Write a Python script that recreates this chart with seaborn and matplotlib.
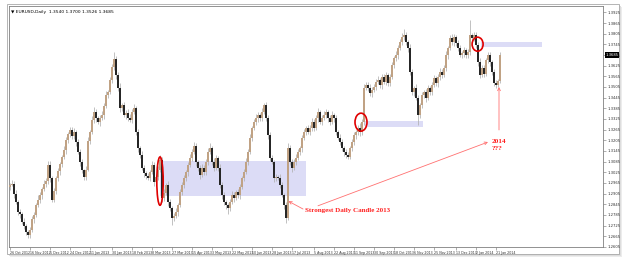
import numpy as np
import pandas as pd
import matplotlib
matplotlib.use("Agg")
import matplotlib.pyplot as plt
import matplotlib.transforms as mtransforms
import seaborn as sns
from matplotlib.patches import Rectangle, Ellipse


# Daily closes, EURUSD, in pips above 1.0000.
closes_pips = [
    2955, 2960, 2900, 2860, 2800, 2790, 2745, 2720, 2690, 2670,
    2700, 2760, 2785, 2840, 2870, 2897, 2930, 2960, 2975, 3065,
    2990, 2870, 2920, 2990, 3030, 3070, 3110, 3150, 3205, 3240,
    3262, 3230, 3250, 3195, 3140, 3080, 3035, 3000, 3040, 3200,
    3250, 3320, 3365, 3330, 3308, 3330, 3345, 3400, 3460, 3475,
    3545, 3617, 3660, 3572, 3500, 3386, 3405, 3347, 3360, 3330,
    3320, 3365, 3386, 3251, 3161, 3122, 3049, 3020, 3005, 2992,
    3026, 3066, 2970, 3000, 3040, 3094, 2880, 2910, 2953, 2857,
    2823, 2767, 2780, 2800, 2840, 2913, 2953, 2992, 3026, 3066,
    3105, 3139, 3170, 3080, 3049, 3009, 3049, 3026, 3083, 3139,
    3161, 3083, 3049, 3105, 3049, 2953, 2897, 2857, 2840, 2823,
    2857, 2897, 2880, 2913, 2897, 2942, 2992, 3026, 3083, 3139,
    3218, 3274, 3308, 3330, 3347, 3330, 3364, 3403, 3330, 3234,
    3105, 3083, 2992, 2998, 2992, 2953, 2897, 2840, 2767, 3161,
    3083, 3049, 3083, 3105, 3139, 3161, 3218, 3251, 3274, 3251,
    3274, 3308, 3274, 3330, 3364, 3308, 3330, 3347, 3364, 3330,
    3308, 3347, 3330, 3251, 3218, 3195, 3161, 3139, 3122, 3111,
    3161, 3195, 3234, 3251, 3274, 3250, 3308, 3499, 3516, 3499,
    3471, 3490, 3505, 3533, 3544, 3516, 3561, 3533, 3572, 3527,
    3561, 3628, 3668, 3685, 3724, 3758, 3786, 3797, 3758, 3724,
    3589, 3476, 3499, 3443, 3347, 3403, 3460, 3476, 3443, 3499,
    3476, 3516, 3555, 3527, 3561, 3589, 3572, 3612, 3685, 3724,
    3780, 3758, 3786, 3752, 3724, 3685, 3696, 3713, 3685, 3702,
    3797, 3780, 3797, 3741, 3645, 3572, 3612, 3580, 3657, 3685,
    3645, 3589, 3527, 3516, 3540, 3685,
]
first_open_pips = 2940

# Wick lengths (pips) above / below the candle body.
upper_wick = [
    12, 20, 15, 25, 10, 18, 12, 22, 15, 10,
    14, 20, 16, 12, 24, 18, 10, 20, 15, 22,
    25, 14, 18, 12, 20, 15, 10, 22, 18, 14,
    20, 16, 24, 12, 18, 15, 22, 10, 18, 25,
    15, 20, 28, 14, 12, 18, 22, 16, 20, 12,
    18, 15, 40, 22, 16, 25, 12, 18, 14, 20,
    22, 16, 24, 14, 18, 12, 20, 15, 10, 18,
    14, 22, 18, 12, 20, 26, 15, 18, 12, 20,
    16, 12, 18, 22, 14, 20, 15, 18, 12, 16,
    20, 14, 26, 18, 12, 16, 22, 15, 18, 20,
    28, 14, 20, 16, 12, 22, 15, 18, 10, 14,
    18, 22, 15, 12, 20, 16, 14, 18, 22, 15,
    20, 14, 18, 22, 16, 12, 20, 13, 18, 15,
    20, 16, 12, 18, 14, 22, 15, 10, 16, 30,
    20, 14, 18, 22, 16, 12, 18, 20, 14, 16,
    18, 22, 14, 16, 20, 12, 18, 24, 15, 14,
    16, 20, 12, 18, 14, 22, 15, 12, 18, 16,
    14, 18, 20, 12, 16, 30, 14, 22, 18, 15,
    20, 14, 18, 16, 22, 12, 18, 15, 20, 14,
    16, 18, 12, 20, 15, 18, 22, 35, 16, 14,
    22, 18, 14, 20, 16, 12, 18, 14, 20, 16,
    14, 18, 20, 12, 16, 22, 15, 18, 20, 14,
    18, 22, 16, 14, 20, 18, 12, 16, 14, 18,
    85, 14, 20, 18, 16, 22, 14, 18, 12, 16,
    18, 14, 20, 16, 12, 15,
]
lower_wick = [
    15, 10, 20, 12, 18, 22, 14, 16, 20, 15,
    18, 12, 20, 14, 10, 16, 22, 12, 18, 14,
    20, 15, 12, 18, 14, 20, 16, 12, 22, 18,
    14, 20, 16, 22, 12, 18, 14, 20, 16, 10,
    18, 12, 16, 22, 14, 20, 12, 18, 14, 16,
    12, 18, 14, 20, 16, 22, 18, 12, 20, 16,
    14, 20, 12, 18, 22, 16, 14, 20, 18, 12,
    16, 12, 20, 14, 18, 12, 22, 16, 14, 20,
    18, 39, 16, 14, 20, 12, 18, 14, 16, 20,
    12, 18, 14, 22, 16, 20, 12, 18, 14, 16,
    14, 20, 16, 12, 18, 14, 22, 16, 20, 33,
    16, 12, 20, 14, 18, 22, 14, 16, 12, 18,
    14, 18, 12, 16, 20, 14, 18, 12, 16, 22,
    18, 14, 20, 16, 12, 18, 14, 20, 28, 10,
    16, 20, 14, 18, 12, 16, 20, 14, 18, 12,
    14, 18, 16, 12, 20, 14, 18, 12, 16, 20,
    18, 14, 20, 16, 12, 18, 14, 20, 16, 14,
    12, 16, 14, 20, 18, 20, 14, 16, 12, 18,
    16, 20, 12, 18, 14, 16, 20, 12, 18, 14,
    18, 12, 16, 14, 20, 12, 16, 18, 14, 20,
    16, 14, 20, 12, 56, 18, 14, 16, 20, 12,
    14, 18, 12, 16, 20, 14, 18, 12, 16, 20,
    12, 16, 20, 14, 18, 12, 16, 20, 14, 18,
    16, 12, 18, 14, 20, 16, 12, 18, 14, 16,
    20, 14, 18, 16, 12, 14,
]

# Time axis labels and the bar each one sits on.
date_labels = [
    "26 Oct 2012", "16 Nov 2012", "5 Dec 2012", "24 Dec 2012", "11 Jan 2013",
    "30 Jan 2013", "18 Feb 2013", "8 Mar 2013", "27 Mar 2013", "15 Apr 2013",
    "3 May 2013", "22 May 2013", "10 Jun 2013", "28 Jun 2013", "17 Jul 2013",
    "5 Aug 2013", "22 Aug 2013", "11 Sep 2013", "30 Sep 2013", "18 Oct 2013",
    "6 Nov 2013", "25 Nov 2013", "13 Dec 2013", "2 Jan 2014", "21 Jan 2014",
]
date_bars = [0, 10, 20, 30, 40, 51, 61, 71, 81, 91, 101, 111, 121, 131, 141,
             152, 162, 172, 182, 192, 202, 212, 223, 233, 243]


# Building the OHLC frame.
df = pd.DataFrame({"close": np.array(closes_pips) / 10000 + 1})
df["open"] = df["close"].shift(1).fillna(1 + first_open_pips / 10000)
df["high"] = df[["open", "close"]].max(axis=1) + np.array(upper_wick) / 10000
df["low"] = df[["open", "close"]].min(axis=1) - np.array(lower_wick) / 10000
df["bar"] = np.arange(len(df))
df["bull"] = df["close"] >= df["open"]


"""Drawing"""
sns.set_theme(style="white")
plt.rcParams["font.family"] = ["DejaVu Sans"]

W, H = 625, 261
fig = plt.figure(figsize=(W / 100, H / 100), dpi=100)
fig.patch.set_facecolor("white")

# Terminal window frame with a soft shadow.
def px_rect(x0, y0, x1, y1, **kw):
    return Rectangle((x0 / W, 1 - y1 / H), (x1 - x0) / W, (y1 - y0) / H,
                     transform=fig.transFigure, **kw)

for off, shade in [(3, "#ececec"), (2, "#dedede"), (1, "#c8c8c8")]:
    fig.patches.append(px_rect(7 + off, 4 + off, 619 + off, 254 + off,
                               facecolor=shade, edgecolor="none", zorder=0))
fig.patches.append(px_rect(7, 4, 619, 254, facecolor="white",
                           edgecolor="#a8a8a8", lw=0.6, zorder=1))

ax = fig.add_axes([9 / W, 14 / H, 594 / W, 241 / H])
ax.set_facecolor("white")
ax.set_zorder(2)

# Support / resistance zones.
zone_kw = dict(facecolor="#dcdcf6", edgecolor="none", zorder=0)
ax.add_patch(Rectangle((75, 1.2891), 73, 0.0197, **zone_kw))
ax.add_patch(Rectangle((177.5, 1.3280), 29, 0.0033, **zone_kw))
ax.add_patch(Rectangle((235.5, 1.3730), 30.5, 0.0028, **zone_kw))

# Candles.
ax.vlines(df["bar"], df["low"], df["high"], color="#b0b0b0", lw=0.55, zorder=2)
body = (df["close"] - df["open"]).abs().clip(lower=0.0002)
bottom = df[["open", "close"]].min(axis=1)
bull = df["bull"]
ax.bar(df["bar"][bull], body[bull], bottom=bottom[bull], width=0.55,
       color="#c0a284", lw=0, zorder=3)
ax.bar(df["bar"][~bull], body[~bull], bottom=bottom[~bull], width=0.55,
       color="#262626", lw=0, zorder=3)

# Hand drawn red circles.
for cx, cy, w, h in [(75, 1.2975, 3.2, 0.0272), (175.5, 1.3307, 6, 0.0101),
                     (233.8, 1.3746, 5.5, 0.0079)]:
    ax.add_patch(Ellipse((cx, cy), w, h, facecolor="none", edgecolor="#e00000",
                         lw=1.2, zorder=4))

# Annotations.
red = "#ff2020"
arrow_kw = dict(arrowstyle="->", color="#ff7070", lw=0.6, shrinkA=0, shrinkB=0,
                mutation_scale=5)
ax.annotate("", xy=(139.2, 1.2862), xytext=(146.5, 1.2818), arrowprops=arrow_kw)
ax.annotate("", xy=(239, 1.3195), xytext=(154, 1.2836), arrowprops=arrow_kw)
ax.annotate("", xy=(244.5, 1.3505), xytext=(244.5, 1.3263), arrowprops=arrow_kw)

ax.text(147.6, 1.2812, "Strongest Daily Candle 2013", color=red, fontsize=5,
        fontweight="bold", family="Liberation Serif", va="center", ha="left",
        zorder=5)
ax.text(241, 1.3198, "2014", color=red, fontsize=5.2, fontweight="bold",
        family="Liberation Serif", va="center", ha="left", zorder=5)
ax.text(241, 1.3156, "???", color=red, fontsize=5.2, fontweight="bold",
        family="Liberation Serif", va="center", ha="left", zorder=5)

# Chart title.
last = df.iloc[-1]
ax.text(0.004, 0.985, "\u25bc EURUSD,Daily  %.4f %.4f %.4f %.4f"
        % (last["open"], last["high"], last["low"], last["close"]),
        transform=ax.transAxes, fontsize=3.2, color="black", va="top", ha="left")

# Axes.
ax.set_xlim(-0.5, 296.5)
ax.set_ylim(1.2604, 1.3961)
ax.yaxis.tick_right()
price_ticks = np.arange(1.2605, 1.3960, 0.0060)
ax.set_yticks(price_ticks)
ax.set_yticklabels(["%.4f" % p for p in price_ticks])
ax.set_xticks(date_bars)
ax.set_xticklabels(date_labels, ha="left")
ax.tick_params(axis="both", length=2, width=0.4, color="#707070", pad=1,
               labelsize=2.7, labelcolor="#303030")
ax.tick_params(axis="x", direction="out", bottom=True, labelsize=2.3)
ax.tick_params(axis="y", direction="out", right=True)
for s in ax.spines.values():
    s.set_color("#808080")
    s.set_linewidth(0.6)

# Current price marker.
blend = mtransforms.blended_transform_factory(ax.transAxes, ax.transData)
ax.text(1.004, last["close"], "%.4f" % last["close"], transform=blend,
        fontsize=2.7, color="white", va="center", ha="left", zorder=6,
        bbox=dict(boxstyle="square,pad=0.15", facecolor="black", edgecolor="none"))

plt.savefig("out.png", dpi=100)
